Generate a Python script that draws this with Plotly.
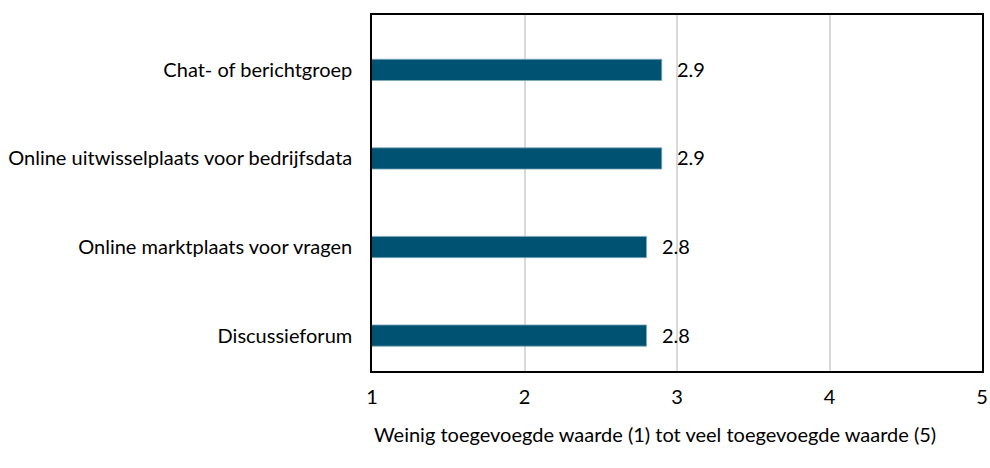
import plotly.graph_objects as go

categories = ["Discussieforum", "Online marktplaats voor vragen",
              "Online uitwisselplaats voor bedrijfsdata", "Chat- of berichtgroep"]
values = [2.8, 2.8, 2.9, 2.9]
labels = ["2.8", "2.8", "2.9", "2.9"]
x_ticks = [1, 2, 3, 4, 5]
x_title = "Weinig toegevoegde waarde (1) tot veel toegevoegde waarde (5)"

FONT = "Lato, Open Sans, sans-serif"
FS = 20

fig = go.Figure()
fig.add_trace(go.Bar(
    x=values, y=categories, orientation="h",
    width=0.24,
    marker=dict(color="#005272", line=dict(color="#7FA9BA", width=0.8)),
    hoverinfo="x+y",
))

for v, c, t in zip(values, categories, labels):
    fig.add_annotation(x=v, y=c, text=t, showarrow=False, xanchor="left",
                       xshift=13, yshift=1, font=dict(family=FONT, size=FS, color="#000000"))

fig.add_annotation(text=x_title, xref="paper", yref="paper", x=0.464, y=0,
                   xanchor="center", yanchor="top", yshift=-49, showarrow=False,
                   font=dict(family=FONT, size=FS, color="#000000"))

fig.update_layout(
    width=990, height=468,
    margin=dict(l=372, r=8, t=15, b=97, autoexpand=False),
    paper_bgcolor="white", plot_bgcolor="white",
    showlegend=False,
    font=dict(family=FONT, size=FS, color="#000000"),
)
fig.update_xaxes(
    range=[1, 5], tickvals=x_ticks, ticktext=[str(v) for v in x_ticks],
    showgrid=True, gridcolor="#D9D9D9", gridwidth=1.5,
    showline=True, mirror=True, linecolor="#000000", linewidth=1.5,
    zeroline=False, ticks="", ticklabelstandoff=7, automargin=False,
)
fig.update_yaxes(
    type="category", categoryorder="array", categoryarray=categories,
    range=[-0.40, 3.62],
    showgrid=False,
    showline=True, mirror=True, linecolor="#000000", linewidth=1.5,
    zeroline=False, ticks="", ticklabelstandoff=14, automargin=False,
)

fig.write_html("out.html", config={"displayModeBar": False},
               post_script="document.body.style.margin='0';")
